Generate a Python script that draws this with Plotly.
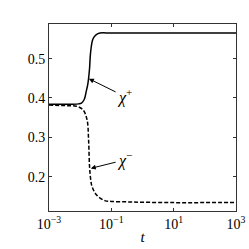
import plotly.graph_objects as go

# chi+ curve (t, value)
t_plus = [1e-3, 5e-3, 0.009, 0.011, 0.0135, 0.0155, 0.0178, 0.0200, 0.0215, 0.0257, 0.033, 0.043, 0.1, 1, 10, 100, 1000]
chi_plus = [0.384, 0.384, 0.385, 0.387, 0.396, 0.415, 0.438, 0.475, 0.514, 0.550, 0.561, 0.565, 0.565, 0.565, 0.565, 0.565, 0.565]

# chi- curve (t, value)
t_minus = [1e-3, 5e-3, 0.0076, 0.0123, 0.0166, 0.0186, 0.0200, 0.0220, 0.0240, 0.0331, 0.0617, 0.1, 0.295, 1, 10, 100, 1000]
chi_minus = [0.382, 0.380, 0.379, 0.370, 0.345, 0.294, 0.226, 0.190, 0.175, 0.154, 0.139, 0.137, 0.136, 0.135, 0.134, 0.134, 0.134]

x_tickvals = [1e-3, 1e-1, 1e1, 1e3]
x_ticktext = ["10<sup>−3</sup>", "10<sup>−1</sup>", "10<sup>1</sup>", "10<sup>3</sup>"]
y_tickvals = [0.2, 0.3, 0.4, 0.5]
y_ticktext = ["0.2", "0.3", "0.4", "0.5"]

font_family = "Liberation Serif"

fig = go.Figure()
fig.add_trace(go.Scatter(x=t_plus, y=chi_plus, mode="lines",
                         line=dict(color="black", width=1.5), line_shape="spline"))
fig.add_trace(go.Scatter(x=t_minus, y=chi_minus, mode="lines",
                         line=dict(color="black", width=1.5, dash="4px,2px"), line_shape="spline"))

fig.add_annotation(x=-1.72, y=0.449, ax=-0.574, ay=0.404, axref="x", ayref="y",
                   xref="x", yref="y", text="<i>χ</i><sup>+</sup>", showarrow=True,
                   arrowhead=2, arrowsize=1, arrowwidth=1, arrowcolor="black",
                   font=dict(family=font_family, size=16, color="black"))
fig.add_annotation(x=-1.66, y=0.221, ax=-0.574, ay=0.2425, axref="x", ayref="y",
                   xref="x", yref="y", text="<i>χ</i><sup>−</sup>", showarrow=True,
                   arrowhead=2, arrowsize=1, arrowwidth=1, arrowcolor="black",
                   font=dict(family=font_family, size=16, color="black"))

fig.update_layout(
    width=249, height=249,
    margin=dict(l=49, r=13, t=24, b=38),
    paper_bgcolor="white", plot_bgcolor="white",
    showlegend=False,
    font=dict(family=font_family, size=14, color="black"),
)
fig.update_xaxes(type="log", range=[-3, 3], tickvals=x_tickvals, ticktext=x_ticktext,
                 ticks="inside", ticklen=3, tickcolor="#333", mirror="ticks", automargin=False,
                 showline=True, linecolor="#333", linewidth=1, showgrid=False, zeroline=False,
                 tickfont=dict(family=font_family, size=14),
                 title=dict(text="<i>t</i>", standoff=0, font=dict(family=font_family, size=15)))
fig.update_yaxes(range=[0.1127, 0.588], tickvals=y_tickvals, ticktext=y_ticktext,
                 ticks="inside", ticklen=3, tickcolor="#333", mirror="ticks", automargin=False,
                 tickfont=dict(family=font_family, size=14),
                 showline=True, linecolor="#333", linewidth=1, showgrid=False, zeroline=False)

fig.write_html("out.html", config={"displayModeBar": False},
               post_script="document.body.style.margin='0';")
